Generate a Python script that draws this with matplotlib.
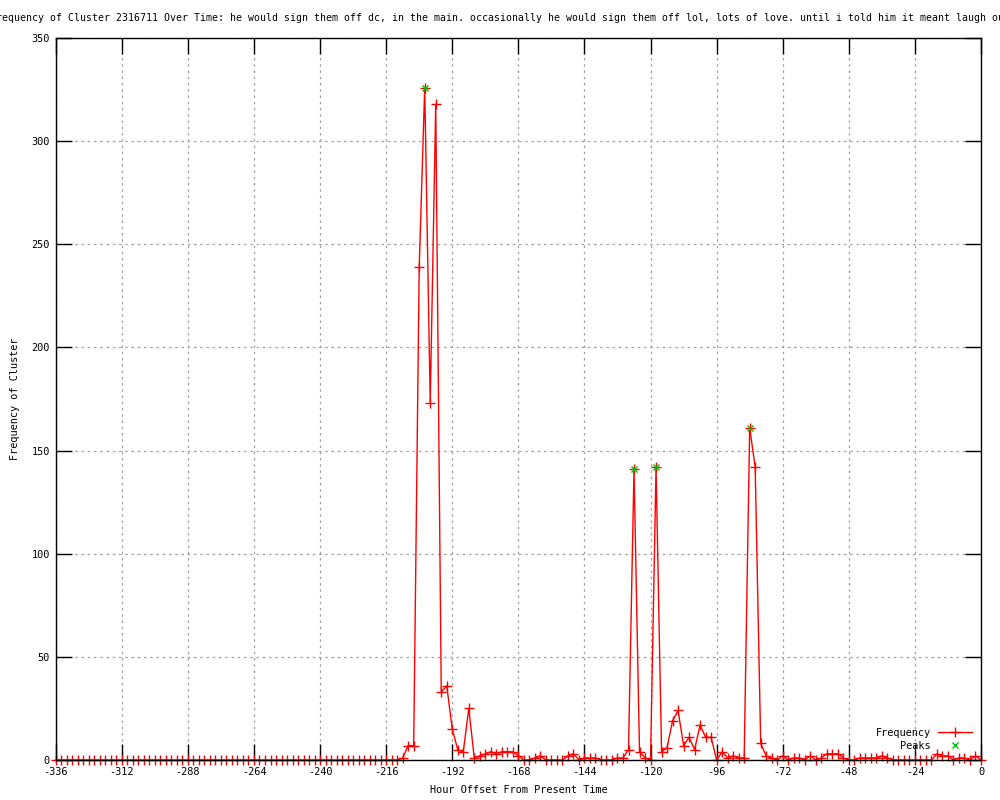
import numpy as np
import matplotlib
matplotlib.use("Agg")
import matplotlib.pyplot as plt

plt.rcParams['font.family'] = ['DejaVu Sans Mono']

hours = list(range(-336, 1, 2))
frequency = [0] * 63 + [
    1, 7, 7, 239, 326, 173, 318, 33, 36, 15,
    5, 4, 25, 1, 2, 3, 4, 3, 4, 4,
    4, 2, 0, 0, 1, 2, 0, 0, 0, 0,
    2, 3, 0, 1, 1, 1, 0, 0, 0, 1,
    1, 5, 141, 4, 1, 0, 142, 4, 6, 19,
    24, 7, 11, 5, 17, 11, 11, 0, 4, 1,
    2, 1, 1, 161, 142, 8, 2, 1, 0, 2,
    0, 1, 1, 0, 2, 0, 1, 3, 3, 3,
    1, 0, 0, 1, 1, 1, 1, 2, 1, 0,
    0, 0, 0, 0, 0, 0, 0, 3, 2, 2,
    0, 1, 1, 0, 2, 0,
]
peak_hours = [-202, -126, -118, -84]
peak_values = [326, 141, 142, 161]
xticks = list(range(-336, 1, 24))
yticks = list(range(0, 351, 50))

title = ("Frequency of Cluster 2316711 Over Time: he would sign them off dc, in the main. "
         "occasionally he would sign them off lol, lots of love. until i told him it meant laugh out loud")

fig = plt.figure(figsize=(10, 8), dpi=100)
ax = fig.add_axes([0.0557, 0.05, 0.9253, 0.9025])

ax.plot(hours, frequency, color='#ff0000', lw=1.0, marker='+', ms=6.5, mew=1.0,
        clip_on=False, zorder=3, label='Frequency')
ax.plot(peak_hours, peak_values, linestyle='none', marker='x', color='#00c000',
        ms=5, mew=1.0, clip_on=False, zorder=4, label='Peaks')

ax.set_xlim(-336, 0)
ax.set_ylim(0, 350)
ax.set_xticks(xticks)
ax.set_yticks(yticks)
ax.set_xticklabels([str(t) for t in xticks])
ax.tick_params(direction='in', length=11.5, width=1, top=True, right=True,
               labelsize=7.4, colors='black')
ax.tick_params(axis='y', pad=4.3)
ax.tick_params(axis='x', pad=5)
ax.grid(True, color='#a0a0a0', linestyle=(0, (2, 3)), lw=0.9)
for s in ax.spines.values():
    s.set_linewidth(1.0)
    s.set_zorder(5)

ax.set_xlabel('Hour Offset From Present Time', fontsize=7.4, labelpad=6)
ax.set_ylabel('Frequency of Cluster', fontsize=7.4, labelpad=8)

fig.text(-10 / 1000, 1 - 18 / 800, title, ha='left', va='center', fontsize=7.15)

leg = ax.legend(loc='lower right', bbox_to_anchor=(1.0, 0.0), frameon=False,
                markerfirst=False, fontsize=7.4, handlelength=3.3, handletextpad=0.7,
                labelspacing=0.3, borderaxespad=0.5, borderpad=0.4)

fig.savefig('out.png', dpi=100)
